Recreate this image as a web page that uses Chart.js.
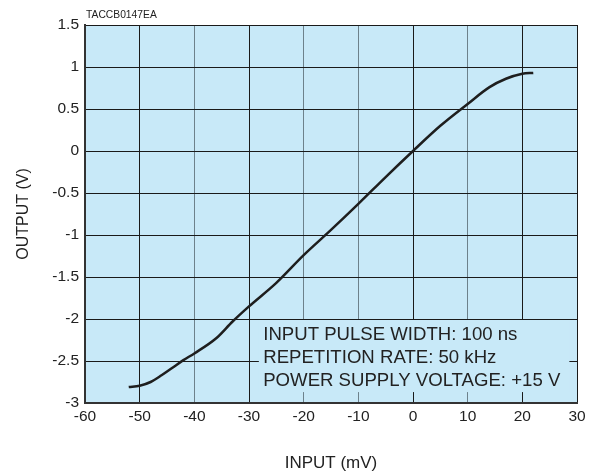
<!DOCTYPE html>
<html>
<head>
<meta charset="utf-8">
<script src="https://cdn.jsdelivr.net/npm/chart.js@4.4.1/dist/chart.umd.min.js"></script>
<style>
  html, body { margin: 0; padding: 0; background: #fff; }
  #wrap { width: 600px; height: 474px; position: relative; }
</style>
</head>
<body>
<div id="wrap"><canvas id="transferChart"></canvas></div>
<script>
// Values
const inputMv = [-52, -50, -48, -46, -44, -42, -40, -36, -33, -30, -25, -20, -15, -10, -5, 0, 5, 10, 14, 17, 20, 22];
const outputV = [-2.81, -2.795, -2.75, -2.67, -2.58, -2.49, -2.41, -2.23, -2.03, -1.85, -1.57, -1.24, -0.94, -0.63, -0.31, 0, 0.3, 0.56, 0.76, 0.86, 0.92, 0.93];

const xTicks = [-60, -50, -40, -30, -20, -10, 0, 10, 20, 30];
const yTicks = [-3, -2.5, -2, -1.5, -1, -0.5, 0, 0.5, 1, 1.5];
const grayXLines = [-40, -20, -10, 10];

const noteLines = ['INPUT PULSE WIDTH: 100 ns', 'REPETITION RATE: 50 kHz', 'POWER SUPPLY VOLTAGE: +15 V'];
const figCode = 'TACCB0147EA';

const FONT = '"Liberation Sans", Arial, sans-serif';
const PLOT_BG = '#c8e9f8';

// light blue plot area, note box that blanks out the grid, and text
const decorPlugin = {
    id: 'decor',
    beforeDraw(chart) {
        const { ctx, chartArea: a } = chart;
        ctx.save();
        ctx.fillStyle = PLOT_BG;
        ctx.fillRect(a.left, a.top, a.right - a.left, a.bottom - a.top);
        ctx.restore();
    },
    beforeDatasetsDraw(chart) {
        const { ctx, scales: { x, y } } = chart;
        const left = x.getPixelForValue(-28.2);
        const right = x.getPixelForValue(28.6);
        const top = y.getPixelForValue(-2) + 1;
        const bottom = y.getPixelForValue(-2.87);
        ctx.save();
        ctx.fillStyle = PLOT_BG;
        ctx.fillRect(left, top, right - left, bottom - top);
        ctx.restore();
    },
    afterDraw(chart) {
        const { ctx, chartArea: a, scales: { x } } = chart;
        ctx.save();
        ctx.fillStyle = '#222';
        ctx.textBaseline = 'middle';
        ctx.font = '18.6px ' + FONT;
        const tx = x.getPixelForValue(-27.4);
        noteLines.forEach((line, i) => ctx.fillText(line, tx, 335 + i * 22.8));
        ctx.font = '10.3px ' + FONT;
        ctx.fillText(figCode, a.left + 1, 15.5);
        ctx.restore();
    }
};

const ctx = document.getElementById('transferChart').getContext('2d');
const transferChart = new Chart(ctx, {
    type: 'line',
    data: {
        datasets: [{
            data: inputMv.map((v, i) => ({ x: v, y: outputV[i] })),
            borderColor: '#1e1e1e',
            borderWidth: 2.5,
            pointRadius: 0,
            cubicInterpolationMode: 'monotone',
            fill: false
        }]
    },
    options: {
        responsive: true,
        maintainAspectRatio: false,
        animation: false,
        layout: { padding: { top: 25, right: 23, left: 0, bottom: 0 } },
        plugins: {
            legend: { display: false },
            tooltip: { enabled: false }
        },
        scales: {
            x: {
                type: 'linear',
                min: -60,
                max: 30,
                afterBuildTicks: s => { s.ticks = xTicks.map(v => ({ value: v })); },
                afterFit: s => { s.height = 71; },
                grid: {
                    drawTicks: false,
                    lineWidth: 1,
                    color: c => grayXLines.includes(c.tick && c.tick.value) ? '#6d818b' : '#1a1a1a'
                },
                border: { color: '#333', width: 2 },
                ticks: {
                    padding: 4, color: '#222', font: { family: FONT, size: 15.5 }, maxRotation: 0,
                    callback: v => String(v)
                },
                title: {
                    display: true,
                    text: 'INPUT (mV)',
                    color: '#222',
                    font: { family: FONT, size: 17 },
                    padding: { top: 0, bottom: 0 }
                }
            },
            y: {
                min: -3,
                max: 1.5,
                afterBuildTicks: s => { s.ticks = yTicks.map(v => ({ value: v })); },
                afterFit: s => { s.width = 85; },
                grid: { drawTicks: false, lineWidth: 1, color: '#1a1a1a' },
                border: { color: '#333', width: 2 },
                ticks: {
                    padding: 6, color: '#222', font: { family: FONT, size: 15.5 },
                    callback: v => String(v)
                },
                title: {
                    display: true,
                    text: 'OUTPUT (V)',
                    color: '#222',
                    font: { family: FONT, size: 16 },
                    padding: { top: 14, bottom: 0 }
                }
            }
        }
    },
    plugins: [decorPlugin]
});
</script>
</body>
</html>
